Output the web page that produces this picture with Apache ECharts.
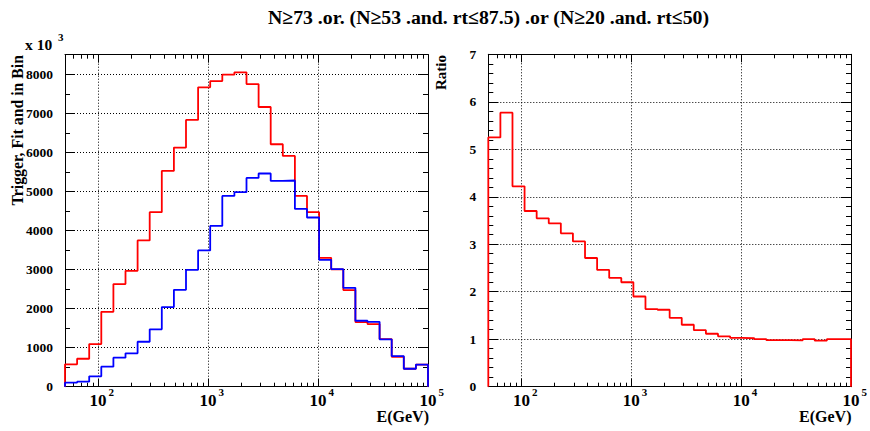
<!DOCTYPE html>
<html><head><meta charset="utf-8">
<script src="https://cdn.jsdelivr.net/npm/echarts@6/dist/echarts.min.js"></script>
<style>html,body{margin:0;padding:0;background:#fff}#c{width:870px;height:431px}</style>
</head><body><div id="c"></div>
<script>
// ---- data ----
const titleText = 'N≥73 .or. (N≥53 .and. rt≤87.5) .or (N≥20 .and. rt≤50)';
const xMin = 50, xMax = 100000, nBins = 30;   // log-uniform binning
const redCounts = [573, 716, 1092, 1918, 2627, 2967, 3744, 4468, 5525, 6122,
  6829, 7665, 7826, 7989, 8049, 7749, 7161, 6207, 5908, 4885,
  4468, 3299, 3003, 2473, 1655, 1604, 1220, 767, 460, 563];
const blueCounts = [102, 128, 266, 512, 742, 854, 1151, 1468, 2038, 2481,
  2993, 3488, 4115, 4885, 4980, 5345, 5458, 5269, 5279, 4552,
  4332, 3248, 3010, 2532, 1688, 1662, 1212, 785, 460, 563];
const ratioValues = [5.25, 5.77, 4.22, 3.70, 3.545, 3.44, 3.23, 3.06, 2.71, 2.46,
  2.29, 2.20, 1.90, 1.635, 1.62, 1.45, 1.305, 1.19, 1.115, 1.06,
  1.03, 1.02, 1.00, 0.98, 0.98, 0.975, 1.00, 0.97, 1.00, 1.00];

// ---- helpers ----
const lMin = Math.log10(xMin), lMax = Math.log10(xMax);
const edges = [];
for (let i = 0; i <= nBins; i++) edges.push(Math.pow(10, lMin + (lMax - lMin) * i / nBins));
function stepData(vals) {
  const pts = [[edges[0], 0]];
  vals.forEach((v, i) => pts.push([edges[i], v]));
  pts.push([edges[nBins], vals[nBins - 1]]);
  pts.push([edges[nBins], 0]);
  return pts;
}
const minorLog = [];
for (let n = 1; n <= 4; n++) for (let k = 2; k <= 9; k++) {
  const l = Math.log10(k * Math.pow(10, n));
  if (l > lMin + 1e-9 && l < lMax - 1e-9) minorLog.push(l);
}
const FONT = '"Liberation Serif", "Times New Roman", serif';
const dotted = { show: true, lineStyle: { color: '#000', width: 1, type: [1, 2] } };

function xAxesFor(gi) {
  const base = {
    gridIndex: gi, type: 'log', logBase: 10, min: xMin, max: xMax,
    axisLine: { show: true, onZero: false, lineStyle: { color: '#000', width: 1 } },
    axisTick: { show: true, inside: true, length: 8, lineStyle: { color: '#000' } },
    minorTick: { show: false }
  };
  const bottom = Object.assign({}, base, {
    position: 'bottom',
    splitLine: dotted,
    axisLabel: {
      show: true, margin: 6, showMinLabel: false, showMaxLabel: true,
      formatter: function (v) {
        const l = Math.log10(v), r = Math.round(l);
        if (Math.abs(l - r) > 1e-6) return '';
        return '{p|' + r + '}{b|10}{s|' + r + '}';
      },
      rich: {
        p: { fontFamily: FONT, fontWeight: 'bold', fontSize: 11, color: 'rgba(0,0,0,0)', lineHeight: 11, verticalAlign: 'bottom', padding: [0, 2, 11, 0] },
        b: { fontFamily: FONT, fontWeight: 'bold', fontSize: 17, color: '#000', lineHeight: 16, verticalAlign: 'bottom' },
        s: { fontFamily: FONT, fontWeight: 'bold', fontSize: 11, color: '#000', lineHeight: 11, verticalAlign: 'bottom', padding: [0, 0, 11, 2] }
      }
    }
  });
  const top = Object.assign({}, base, { position: 'top', splitLine: { show: false }, axisLabel: { show: false } });
  const minorBase = {
    gridIndex: gi, type: 'value', min: lMin, max: lMax,
    axisLine: { show: false, onZero: false },
    axisLabel: { show: false },
    splitLine: { show: false },
    axisTick: { show: true, inside: true, length: 4, customValues: minorLog, lineStyle: { color: '#000' } }
  };
  return [bottom, top,
    Object.assign({}, minorBase, { position: 'bottom' }),
    Object.assign({}, minorBase, { position: 'top' })];
}
function yAxesFor(gi, max, interval, minorSplit, showMax) {
  const base = {
    gridIndex: gi, type: 'value', min: 0, max: max, interval: interval,
    axisLine: { show: true, onZero: false, lineStyle: { color: '#000', width: 1 } },
    axisTick: { show: true, inside: true, length: 10, lineStyle: { color: '#000' } },
    minorTick: { show: true, splitNumber: minorSplit, length: 5, lineStyle: { color: '#000' } }
  };
  const left = Object.assign({}, base, {
    position: 'left', splitLine: dotted,
    axisLabel: { show: true, margin: 12, showMaxLabel: showMax, fontFamily: FONT, fontWeight: 'bold', fontSize: 13.5, color: '#000',
      formatter: v => String(v) }
  });
  const right = Object.assign({}, base, { position: 'right', splitLine: { show: false }, axisLabel: { show: false } });
  return [left, right];
}

const chart = echarts.init(document.getElementById('c'), null, { renderer: 'svg' });
const grids = [
  { left: 65, top: 54.7, width: 363, height: 332, show: false },
  { left: 488.3, top: 54.3, width: 363, height: 332.4, show: false }
];
const xAxis = xAxesFor(0).concat(xAxesFor(1));
const yAxis = yAxesFor(0, 8500, 1000, 2, false).concat(yAxesFor(1, 7, 1, 5, true));
const lineSeries = (name, vals, color, xi, yi) => ({
  name: name, type: 'line', step: 'end', xAxisIndex: xi, yAxisIndex: yi,
  data: stepData(vals), symbol: 'none', animation: false,
  lineStyle: { color: color, width: 1.8 }, z: 3
});
const txt = (text, x, y, size, extra) => ({
  type: 'text', x: x, y: y, silent: true,
  style: Object.assign({ text: text, fill: '#000', font: 'bold ' + size + 'px ' + FONT, textAlign: 'left', textVerticalAlign: 'middle' }, extra || {})
});

chart.setOption({
  backgroundColor: '#fff',
  animation: false,
  grid: grids,
  xAxis: xAxis,
  yAxis: yAxis,
  series: [
    lineSeries('Trigger', redCounts, '#ff0000', 0, 0),
    lineSeries('Fit and in Bin', blueCounts, '#0000ff', 0, 0),
    lineSeries('Ratio', ratioValues, '#ff0000', 4, 2)
  ],
  graphic: [
    txt(titleText, 268, 17, 19.8),
    Object.assign(txt('Trigger, Fit and in Bin', 17, 55, 15.8, { textAlign: 'right' }), { rotation: Math.PI / 2 }),
    txt('x 10', 25, 44, 15.5),
    txt('3', 58, 37, 11),
    txt('E(GeV)', 429, 416, 16, { textAlign: 'right' }),
    txt('E(GeV)', 851.5, 416, 16, { textAlign: 'right' }),
    Object.assign(txt('Ratio', 441, 55, 15, { textAlign: 'right' }), { rotation: Math.PI / 2 })
  ]
});
</script></body></html>
